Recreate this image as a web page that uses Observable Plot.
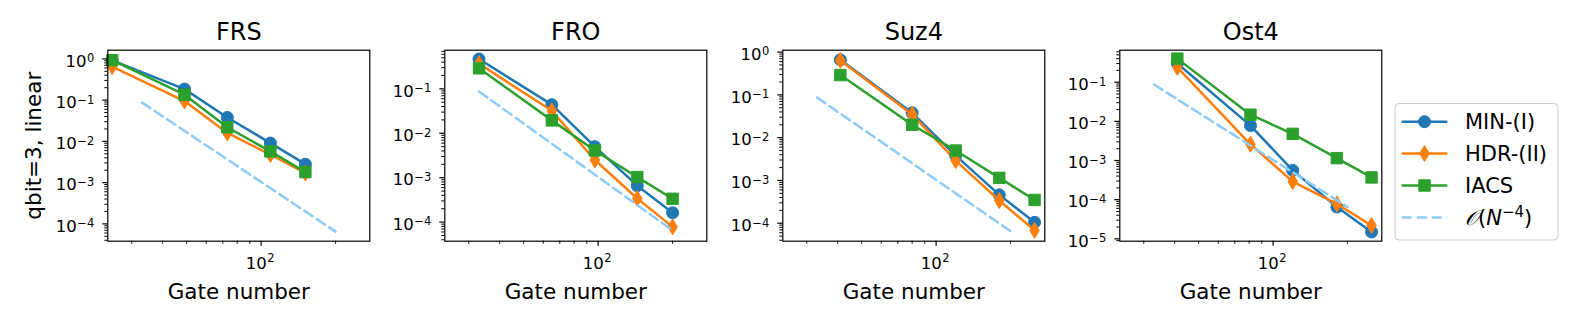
<!DOCTYPE html>
<html><head><meta charset="utf-8">
<script src="https://cdn.jsdelivr.net/npm/d3@7"></script>
<script src="https://cdn.jsdelivr.net/npm/@observablehq/plot@0.6"></script>
<style>
html,body{margin:0;padding:0;background:#fff;}
#chart{position:relative;width:1578px;height:329px;overflow:hidden;font-family:"DejaVu Sans",sans-serif;}
#chart svg{position:absolute;top:0;}
</style></head><body><div id="chart"></div>
<script>
// ---------- data ----------
const titles = ["FRS", "FRO", "Suz4", "Ost4"];
const seriesNames = ["MIN-(I)", "HDR-(II)", "IACS"];

const gateFRS = [25, 49, 73, 109, 151];
const minFRS  = [0.92, 0.185, 0.038, 0.0091, 0.0028];
const hdrFRS  = [0.65, 0.095, 0.016, 0.0048, 0.0017];
const iacsFRS = [0.93, 0.135, 0.022, 0.0057, 0.0018];

const gateFRO = [33, 65, 97, 144, 200];
const minFRO  = [0.47, 0.044, 0.0050, 0.00066, 0.000162];
const hdrFRO  = [0.37, 0.032, 0.0025, 0.00034, 0.000078];
const iacsFRO = [0.29, 0.0195, 0.0041, 0.00103, 0.000335];

const gateSuz4 = [41, 80, 120, 180, 250];
const minSuz4  = [0.66, 0.038, 0.0038, 0.00046, 0.000105];
const hdrSuz4  = [0.64, 0.035, 0.0029, 0.00034, 0.000068];
const iacsSuz4 = [0.29, 0.020, 0.0050, 0.00115, 0.00035];

const gateOst4 = [41, 81, 120, 181, 250];
const minOst4  = [0.30, 0.0078, 0.00056, 0.000065, 0.000015];
const hdrOst4  = [0.24, 0.0026, 0.00029, 0.000078, 0.000022];
const iacsOst4 = [0.40, 0.0148, 0.0048, 0.00115, 0.00037];

const refGates = [33, 200];
const refError = [0.087, 0.000065];

const xTicksMajor = [100];
const xTicksMinor = [30, 40, 50, 60, 70, 80, 90, 200];

// ---------- assemble ----------
const gates = [gateFRS, gateFRO, gateSuz4, gateOst4];
const values = [
  [minFRS, hdrFRS, iacsFRS],
  [minFRO, hdrFRO, iacsFRO],
  [minSuz4, hdrSuz4, iacsSuz4],
  [minOst4, hdrOst4, iacsOst4]
];
const xDomain = [24, 275];
const yDomains = [
  [Math.pow(10, -4.42), Math.pow(10, 0.21)],
  [Math.pow(10, -4.43), Math.pow(10, -0.13)],
  [Math.pow(10, -4.42), Math.pow(10, 0.044)],
  [Math.pow(10, -5.06), Math.pow(10, -0.183)]
];
const colors = ["#1f77b4", "#ff7f0e", "#2ca02c"];
const refColor = "#8ccbfa";

const circleSym = {draw(ctx, size) { const r = Math.sqrt(size / Math.PI); ctx.moveTo(r, 0); ctx.arc(0, 0, r, 0, 2 * Math.PI); }};
const diamondSym = {draw(ctx, size) { const r = Math.sqrt(size / Math.PI); const h = r * 1.33, w = h * 0.6;
  ctx.moveTo(0, -h); ctx.lineTo(w, 0); ctx.lineTo(0, h); ctx.lineTo(-w, 0); ctx.closePath(); }};
const squareSym = {draw(ctx, size) { const r = Math.sqrt(size / Math.PI); const s = r * 0.95;
  ctx.moveTo(-s, -s); ctx.lineTo(s, -s); ctx.lineTo(s, s); ctx.lineTo(-s, s); ctx.closePath(); }};
const symbols = [circleSym, diamondSym, squareSym];

const expOf = d => Math.round(Math.log10(d));
const expText = d => { const e = expOf(d); return e < 0 ? "\u2212" + (-e) : String(e); };

function logTicks([lo, hi]) {
  const major = [], minor = [];
  for (let e = Math.floor(Math.log10(lo)) - 1; e <= Math.ceil(Math.log10(hi)); e++) {
    for (let k = 1; k <= 9; k++) {
      const v = k * Math.pow(10, e);
      if (v >= lo && v <= hi) (k === 1 ? major : minor).push(v);
    }
  }
  return {major, minor};
}

const baseFs = 16.5, expFs = 11.5;
const digitW = 0.636 * expFs, minusW = 0.838 * expFs;

function yPowLabels(majors) {
  const out = [];
  const groups = [majors.filter(d => expOf(d) >= 0), majors.filter(d => expOf(d) < 0)];
  groups.forEach((g, gi) => {
    if (!g.length) return;
    const ew = gi === 0 ? digitW : minusW + digitW;
    out.push(Plot.text(g, {y: d => d, text: () => "10", frameAnchor: "left", textAnchor: "end", lineAnchor: "middle",
      dx: -13.5 - ew - 0.6, dy: 2.4, fontSize: baseFs, fill: "black"}));
    out.push(Plot.text(g, {y: d => d, text: expText, frameAnchor: "left", textAnchor: "end", lineAnchor: "middle",
      dx: -13.5, dy: -0.3, fontSize: expFs, fill: "black"}));
  });
  return out;
}
function xPowLabels(majors) {
  const baseW = 1.272 * baseFs, total = baseW + 0.6 + digitW;
  return [
    Plot.text(majors, {x: d => d, text: () => "10", frameAnchor: "bottom", textAnchor: "start", lineAnchor: "middle",
      dx: -total / 2 - 1, dy: 22.5, fontSize: baseFs, fill: "black"}),
    Plot.text(majors, {x: d => d, text: expText, frameAnchor: "bottom", textAnchor: "start", lineAnchor: "middle",
      dx: -total / 2 - 1 + baseW + 0.6, dy: 17.3, fontSize: expFs, fill: "black"})
  ];
}

const chart = document.getElementById("chart");
const offsets = [0, 337, 675, 1012];
const mL = 107.3, frameW = 262, W = 380, H = 329, mT = 49.7, mB = 88.3;

titles.forEach((title, i) => {
  const rows = seriesNames.map((s, j) => gates[i].map((g, k) => ({gate: g, err: values[i][j][k], series: s})));
  const refRows = refGates.map((g, k) => ({gate: g, err: refError[k]}));
  const yt = logTicks(yDomains[i]);
  const marks = [];
  seriesNames.forEach((s, j) => {
    marks.push(Plot.line(rows[j], {x: "gate", y: "err", stroke: "series", strokeWidth: 2.5}));
    marks.push(Plot.dot(rows[j], {x: "gate", y: "err", fill: "series", stroke: "series", strokeWidth: 1, r: 6, symbol: symbols[j]}));
  });
  marks.push(Plot.line(refRows, {x: "gate", y: "err", stroke: refColor, strokeWidth: 2.5, strokeDasharray: "10,5"}));
  marks.push(Plot.frame({stroke: "black", strokeWidth: 1.2}));
  marks.push(Plot.axisY(yt.minor, {anchor: "left", tickSize: 3, tickFormat: () => "", label: null, stroke: "black", strokeWidth: 1}));
  marks.push(Plot.axisY(yt.major, {anchor: "left", tickSize: 5, tickFormat: () => "", label: null, stroke: "black", strokeWidth: 1.2}));
  marks.push(Plot.axisX(xTicksMinor, {anchor: "bottom", tickSize: 3, tickFormat: () => "", label: null, stroke: "black", strokeWidth: 1}));
  marks.push(Plot.axisX(xTicksMajor, {anchor: "bottom", tickSize: 5, tickFormat: () => "", label: null, stroke: "black", strokeWidth: 1.2}));
  marks.push(...yPowLabels(yt.major));
  marks.push(...xPowLabels(xTicksMajor));
  marks.push(Plot.text(["Gate number"], {text: d => d, frameAnchor: "bottom", textAnchor: "middle", lineAnchor: "middle", dy: 50.7, fontSize: 21.5, fill: "black"}));
  marks.push(Plot.text([title], {text: d => d, frameAnchor: "top", textAnchor: "middle", lineAnchor: "middle", dy: -18.1, fontSize: 24, fill: "black"}));
  if (i === 0) marks.push(Plot.text(["qbit=3, linear"], {text: d => d, frameAnchor: "left", textAnchor: "middle", lineAnchor: "middle", dx: -73.8, rotate: -90, fontSize: 21.5, fill: "black"}));

  const svg = Plot.plot({
    width: W, height: H,
    marginLeft: mL, marginRight: W - mL - frameW, marginTop: mT, marginBottom: mB,
    x: {type: "log", domain: xDomain, axis: null},
    y: {type: "log", domain: yDomains[i], axis: null},
    color: {domain: seriesNames, range: colors},
    style: {fontFamily: "DejaVu Sans, sans-serif", background: "transparent", overflow: "visible"},
    marks
  });
  svg.style.left = offsets[i] + "px";
  svg.style.background = "transparent";
  svg.style.maxWidth = "none";
  chart.appendChild(svg);
});

// ---------- legend ----------
const leg = d3.create("svg").attr("width", 1578).attr("height", 329).style("left", "0px")
  .attr("font-family", "DejaVu Sans, sans-serif");
leg.append("rect").attr("x", 1395).attr("y", 103.5).attr("width", 163).attr("height", 136.5)
  .attr("rx", 4).attr("fill", "white").attr("fill-opacity", 0.8).attr("stroke", "#cccccc").attr("stroke-width", 1);
const rowsY = [121.7, 153.5, 185.5, 217.5];
seriesNames.forEach((s, j) => {
  const g = leg.append("g");
  g.append("line").attr("x1", 1401.7).attr("x2", 1447.3).attr("y1", rowsY[j]).attr("y2", rowsY[j])
    .attr("stroke", colors[j]).attr("stroke-width", 2.5);
  g.append("path").attr("d", d3.symbol(symbols[j], 36 * Math.PI)()).attr("transform", `translate(1424.5,${rowsY[j]})`)
    .attr("fill", colors[j]).attr("stroke", colors[j]).attr("stroke-width", 1);
  g.append("text").attr("x", 1465).attr("y", rowsY[j] + 7.6).attr("font-size", 21).text(s);
});
leg.append("line").attr("x1", 1401.7).attr("x2", 1447.3).attr("y1", rowsY[3]).attr("y2", rowsY[3])
  .attr("stroke", refColor).attr("stroke-width", 2.5).attr("stroke-dasharray", "10,5");
const t = leg.append("text").attr("x", 1465).attr("y", rowsY[3] + 7.6).attr("font-size", 21);
t.append("tspan").attr("font-family", "DejaVu Serif, serif").attr("font-style", "italic").text("𝒪");
t.append("tspan").text("(");
t.append("tspan").attr("font-style", "italic").text("N");
t.append("tspan").attr("font-size", 15).attr("dy", -8).text("\u22124");
t.append("tspan").attr("dy", 8).text(")");
chart.appendChild(leg.node());
</script></body></html>
